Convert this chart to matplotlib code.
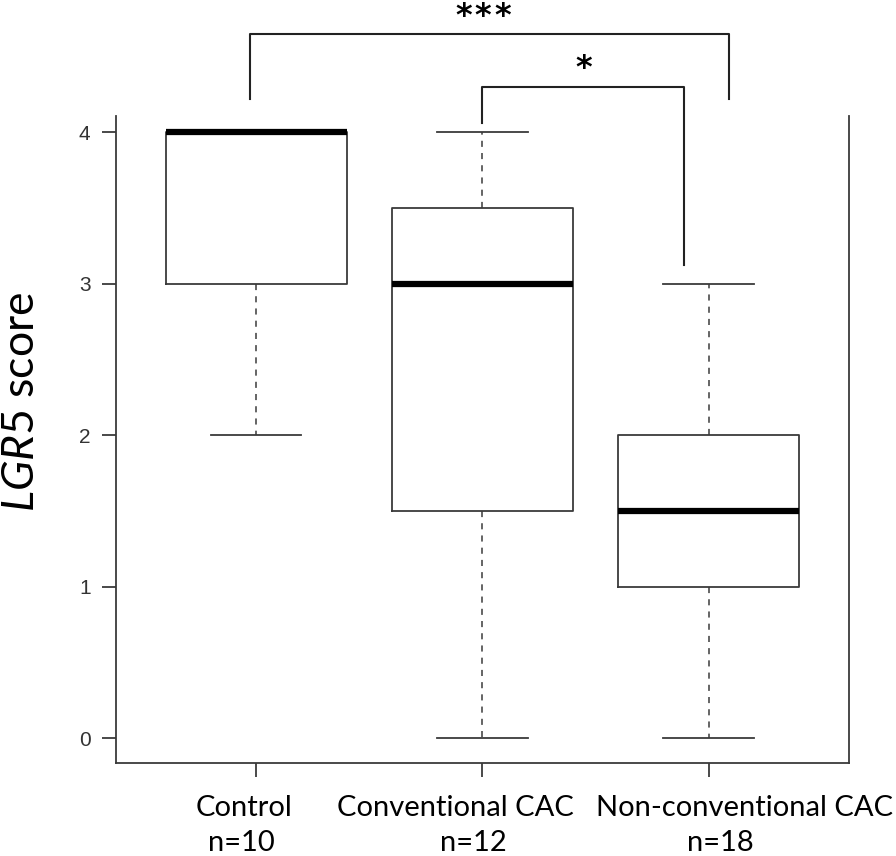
import numpy as np
import matplotlib
matplotlib.use("Agg")
import matplotlib.pyplot as plt

plt.rcParams["mathtext.fontset"] = "custom"
plt.rcParams["mathtext.it"] = "Lato:italic"
plt.rcParams["mathtext.rm"] = "Lato"

# LGR5 score by group
groups = ["Control", "Conventional CAC", "Non-conventional CAC"]
ns = ["n=10", "n=12", "n=18"]
whislo = [2, 0, 0]
q1 = [3, 1.5, 1]
med = [4, 3, 1.5]
q3 = [4, 3.5, 2]
whishi = [4, 4, 3]
yticks = [0, 1, 2, 3, 4]

# significance brackets: (left group, right group, number of stars)
sig = [(1, 3, 3), (2, 3, 1)]

lab_font = ["Lato", "DejaVu Sans"]
gray = "#3a3a3a"

fig = plt.figure(figsize=(8.96, 8.56), dpi=100)
ax = fig.add_axes([115.5/896, 1-763/856, (849-115.5)/896, (763-116)/856])

stats = []
for i in range(len(groups)):
    stats.append(dict(label=groups[i], whislo=whislo[i], q1=q1[i], med=med[i],
                      q3=q3[i], whishi=whishi[i], fliers=[]))

ax.bxp(stats, positions=[1, 2, 3], widths=0.8, capwidths=0.4, showfliers=False,
       boxprops=dict(color=gray, linewidth=1.3),
       medianprops=dict(color="black", linewidth=4.5, solid_capstyle="butt"),
       whiskerprops=dict(color=gray, linewidth=1.1, linestyle=(0, (4, 4))),
       capprops=dict(color=gray, linewidth=1.3))

ax.set_xlim(0.378, 3.62)
ax.set_ylim(-0.165, 4.106)
ax.spines["top"].set_visible(False)
for s in ["left", "bottom", "right"]:
    ax.spines[s].set_color(gray)
    ax.spines[s].set_linewidth(1.3)

ax.set_yticks(yticks)
ax.set_yticklabels([str(t) for t in yticks], fontsize=15, color="#333333",
                   family="Liberation Sans")
ax.tick_params(axis="y", length=10, width=1.3, color=gray, pad=8)
ax.set_xticks([1, 2, 3])
ax.set_xticklabels([])
ax.tick_params(axis="x", length=10, width=1.3, color=gray)

# group labels (placed by hand like the original)
name_x = [0.947, 1.88, 3.16]
n_x = [0.936, 1.96, 3.05]
trans = ax.get_xaxis_transform()
for i in range(len(groups)):
    ax.text(name_x[i], -0.07, groups[i], transform=trans, ha="center", va="center",
            fontsize=21, family=lab_font, clip_on=False)
    ax.text(n_x[i], -0.124, ns[i], transform=trans, ha="center", va="center",
            fontsize=21, family=lab_font, clip_on=False)

fig.text(22/896, 1-402/856, r"$\it{LGR5}$ score", rotation=90, ha="center", va="center",
         fontsize=32, family=lab_font)

# brackets
br_top = [4.65, 4.30]
br_left_bot = [4.22, 4.06]
br_right_bot = [4.22, 3.12]
br_x = [(0.973, 3.09), (2.0, 2.89)]
lab_x = [2.003, 2.447]
lab_y = [4.66, 4.32]
star_gap = 0.088
for k, (a, b, nstar) in enumerate(sig):
    x0, x1 = br_x[k]
    ax.plot([x0, x0, x1, x1], [br_left_bot[k], br_top[k], br_top[k], br_right_bot[k]],
            color="#222222", linewidth=1.5, clip_on=False)
    for j in range(nstar):
        xs = lab_x[k] + (j - (nstar - 1) / 2) * star_gap
        ax.text(xs, lab_y[k], "*", ha="center", va="bottom",
                fontsize=23, fontweight="bold", clip_on=False)

fig.savefig("out.png", dpi=100)
